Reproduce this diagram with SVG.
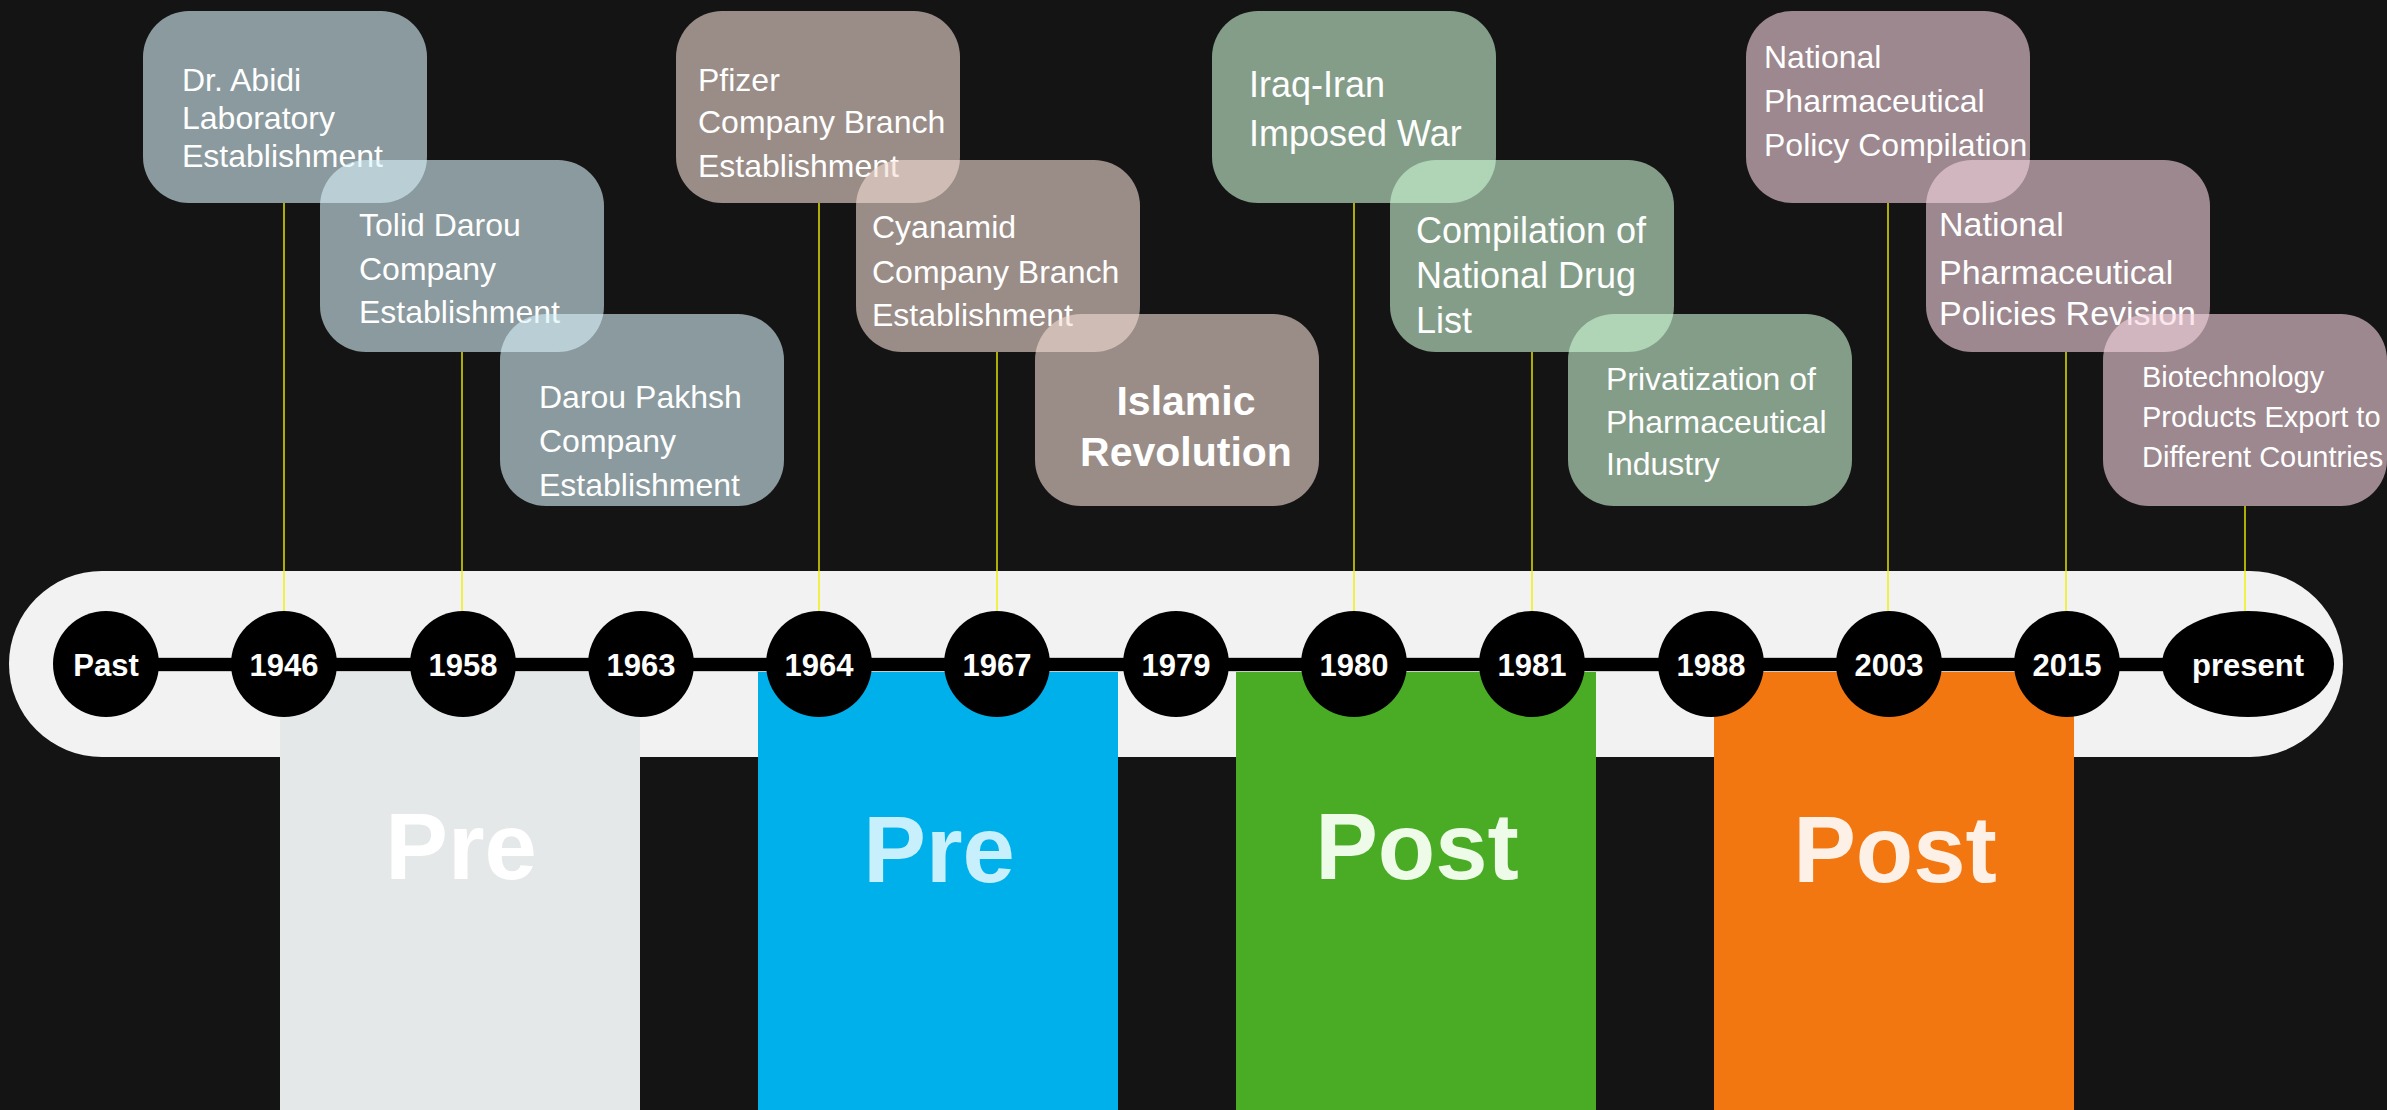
<svg xmlns="http://www.w3.org/2000/svg" width="2387" height="1110" viewBox="0 0 2387 1110">
<style>
.bg{fill:#141414}
.box{opacity:0.6}
.g1{fill:rgb(216,243,250)}
.g2{fill:rgb(243,221,212)}
.g3{fill:rgb(205,248,213)}
.g4{fill:rgb(247,213,223)}
.t{font-family:"Liberation Sans",Arial,sans-serif;fill:#ffffff}
.yr{font-family:"Liberation Sans",Arial,sans-serif;font-weight:bold;font-size:31px;fill:#ffffff;text-anchor:middle}
.era{font-family:"Liberation Sans",Arial,sans-serif;font-weight:bold;font-size:94px;text-anchor:middle}
.dot{fill:#000000}
.conn{stroke:#f0f000;stroke-width:1.4;fill:none}
</style>
<rect class="bg" x="0" y="0" width="2387" height="1110"/>
<g id="band">
<rect x="9" y="571" width="2334" height="186" rx="93" ry="93" fill="#f2f2f2"/>
</g>
<g id="eras">
<rect x="280" y="664" width="360" height="446" fill="#e4e8e9"/>
<rect x="758" y="664" width="360" height="446" fill="#00b0ea"/>
<rect x="1236" y="664" width="360" height="446" fill="#4aac25"/>
<rect x="1714" y="664" width="360" height="446" fill="#f27711"/>
<text class="era" x="461" y="879" fill="#ffffff">Pre</text>
<text class="era" x="939" y="882" fill="#c8f0fc">Pre</text>
<text class="era" x="1417" y="879" fill="#eefbe9">Post</text>
<text class="era" x="1895" y="882" fill="#fdf0e6">Post</text>
</g>
<g id="connectors">
<line class="conn" x1="284" y1="203" x2="284" y2="611"/>
<line class="conn" x1="462" y1="352" x2="462" y2="611"/>
<line class="conn" x1="819" y1="203" x2="819" y2="611"/>
<line class="conn" x1="997" y1="352" x2="997" y2="611"/>
<line class="conn" x1="1354" y1="203" x2="1354" y2="611"/>
<line class="conn" x1="1532" y1="352" x2="1532" y2="611"/>
<line class="conn" x1="1888" y1="203" x2="1888" y2="611"/>
<line class="conn" x1="2066" y1="352" x2="2066" y2="611"/>
<line class="conn" x1="2245" y1="506" x2="2245" y2="611"/>
</g>
<g id="timeline">
<rect x="106" y="657.5" width="2141" height="14" fill="#000000" stroke="#c8c8c8" stroke-width="1"/>
</g>
<g id="year-past"><circle class="dot" cx="106" cy="664" r="53"/><text class="yr" x="106" y="675.5">Past</text></g>
<g id="year-1946"><circle class="dot" cx="284" cy="664" r="53"/><text class="yr" x="284" y="675.5">1946</text></g>
<g id="year-1958"><circle class="dot" cx="463" cy="664" r="53"/><text class="yr" x="463" y="675.5">1958</text></g>
<g id="year-1963"><circle class="dot" cx="641" cy="664" r="53"/><text class="yr" x="641" y="675.5">1963</text></g>
<g id="year-1964"><circle class="dot" cx="819" cy="664" r="53"/><text class="yr" x="819" y="675.5">1964</text></g>
<g id="year-1967"><circle class="dot" cx="997" cy="664" r="53"/><text class="yr" x="997" y="675.5">1967</text></g>
<g id="year-1979"><circle class="dot" cx="1176" cy="664" r="53"/><text class="yr" x="1176" y="675.5">1979</text></g>
<g id="year-1980"><circle class="dot" cx="1354" cy="664" r="53"/><text class="yr" x="1354" y="675.5">1980</text></g>
<g id="year-1981"><circle class="dot" cx="1532" cy="664" r="53"/><text class="yr" x="1532" y="675.5">1981</text></g>
<g id="year-1988"><circle class="dot" cx="1711" cy="664" r="53"/><text class="yr" x="1711" y="675.5">1988</text></g>
<g id="year-2003"><circle class="dot" cx="1889" cy="664" r="53"/><text class="yr" x="1889" y="675.5">2003</text></g>
<g id="year-2015"><circle class="dot" cx="2067" cy="664" r="53"/><text class="yr" x="2067" y="675.5">2015</text></g>
<g id="year-present"><ellipse class="dot" cx="2248" cy="664" rx="86" ry="53"/><text class="yr" x="2248" y="675.5">present</text></g>

<g id="ev-1946"><rect class="box g1" x="143" y="11" width="284" height="192" rx="46"/>
<text class="t" font-size="32"><tspan x="182" y="91">Dr. Abidi</tspan><tspan x="182" y="129">Laboratory</tspan><tspan x="182" y="167">Establishment</tspan></text></g>
<g id="ev-1958"><rect class="box g1" x="320" y="160" width="284" height="192" rx="46"/>
<text class="t" font-size="32"><tspan x="359" y="236">Tolid Darou</tspan><tspan x="359" y="280">Company</tspan><tspan x="359" y="323">Establishment</tspan></text></g>
<g id="ev-1963"><rect class="box g1" x="500" y="314" width="284" height="192" rx="46"/>
<text class="t" font-size="32"><tspan x="539" y="408">Darou Pakhsh</tspan><tspan x="539" y="452">Company</tspan><tspan x="539" y="496">Establishment</tspan></text></g>

<g id="ev-1964"><rect class="box g2" x="676" y="11" width="284" height="192" rx="46"/>
<text class="t" font-size="32"><tspan x="698" y="91">Pfizer</tspan><tspan x="698" y="133">Company Branch</tspan><tspan x="698" y="177">Establishment</tspan></text></g>
<g id="ev-1967"><rect class="box g2" x="856" y="160" width="284" height="192" rx="46"/>
<text class="t" font-size="32"><tspan x="872" y="238">Cyanamid</tspan><tspan x="872" y="283">Company Branch</tspan><tspan x="872" y="326">Establishment</tspan></text></g>
<g id="ev-1979"><rect class="box g2" x="1035" y="314" width="284" height="192" rx="46"/>
<text class="t" font-size="41" font-weight="bold" text-anchor="middle"><tspan x="1186" y="415">Islamic</tspan><tspan x="1186" y="466">Revolution</tspan></text></g>

<g id="ev-1980"><rect class="box g3" x="1212" y="11" width="284" height="192" rx="46"/>
<text class="t" font-size="36"><tspan x="1249" y="97">Iraq-Iran</tspan><tspan x="1249" y="146">Imposed War</tspan></text></g>
<g id="ev-1981"><rect class="box g3" x="1390" y="160" width="284" height="192" rx="46"/>
<text class="t" font-size="36"><tspan x="1416" y="243">Compilation of</tspan><tspan x="1416" y="288">National Drug</tspan><tspan x="1416" y="333">List</tspan></text></g>
<g id="ev-1988"><rect class="box g3" x="1568" y="314" width="284" height="192" rx="46"/>
<text class="t" font-size="32"><tspan x="1606" y="390">Privatization of</tspan><tspan x="1606" y="433">Pharmaceutical</tspan><tspan x="1606" y="475">Industry</tspan></text></g>

<g id="ev-2003"><rect class="box g4" x="1746" y="11" width="284" height="192" rx="46"/>
<text class="t" font-size="32"><tspan x="1764" y="68">National</tspan><tspan x="1764" y="112">Pharmaceutical</tspan><tspan x="1764" y="156">Policy Compilation</tspan></text></g>
<g id="ev-2015"><rect class="box g4" x="1926" y="160" width="284" height="192" rx="46"/>
<text class="t" font-size="34"><tspan x="1939" y="236">National</tspan><tspan x="1939" y="284">Pharmaceutical</tspan><tspan x="1939" y="325">Policies Revision</tspan></text></g>
<g id="ev-present"><rect class="box g4" x="2103" y="314" width="284" height="192" rx="46"/>
<text class="t" font-size="29"><tspan x="2142" y="387">Biotechnology</tspan><tspan x="2142" y="427">Products Export to</tspan><tspan x="2142" y="467">Different Countries</tspan></text></g>
</svg>
